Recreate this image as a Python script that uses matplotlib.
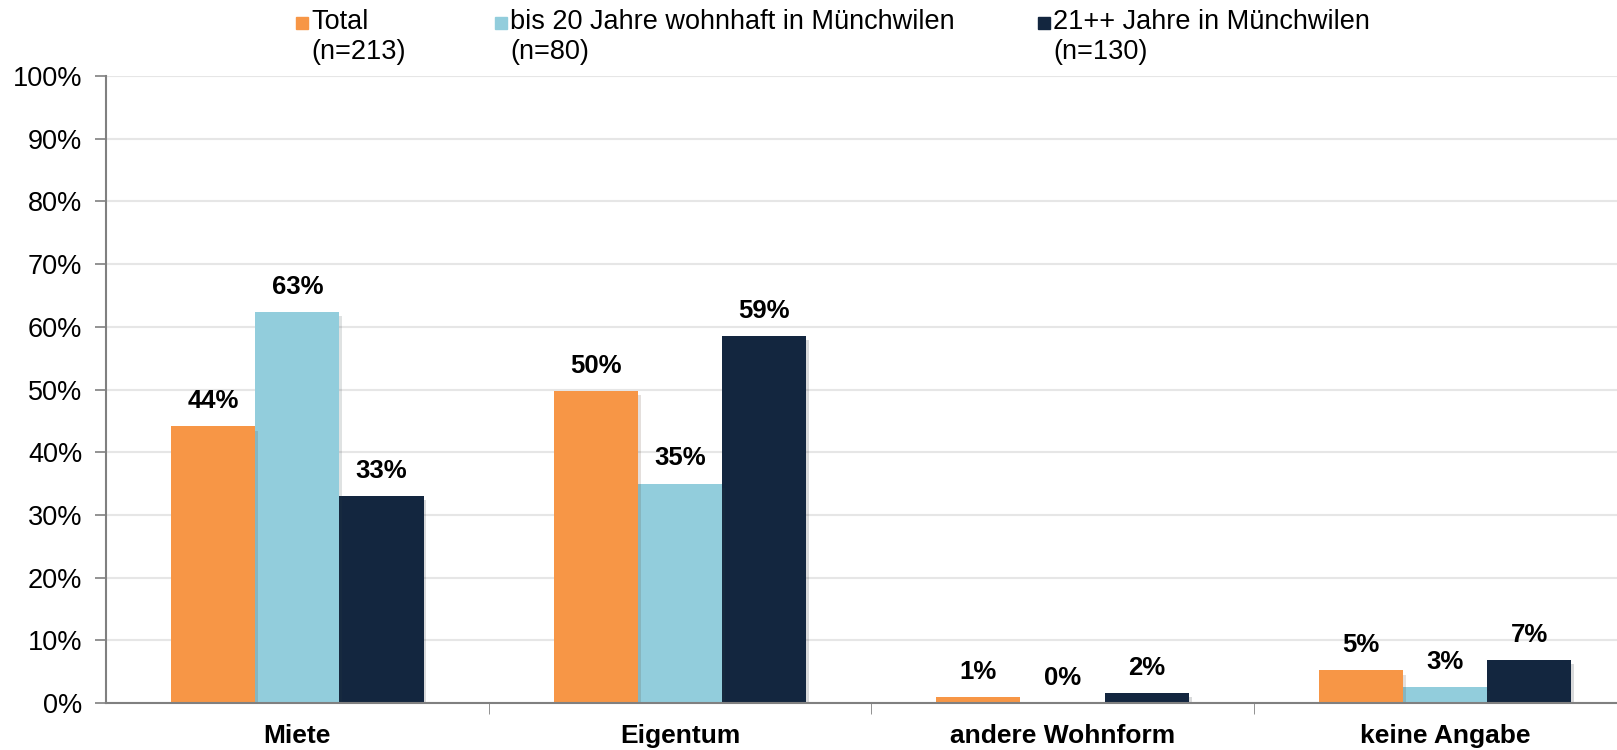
import numpy as np
import matplotlib.pyplot as plt
from matplotlib.patches import Rectangle
import matplotlib.patheffects as pe

plt.rcParams['font.family'] = ['Liberation Sans', 'DejaVu Sans']

categories = ['Miete', 'Eigentum', 'andere Wohnform', 'keine Angabe']
series_names = ['Total', 'bis 20 Jahre wohnhaft in Münchwilen', '21++ Jahre in Münchwilen']
series_n = ['(n=213)', '(n=80)', '(n=130)']
total = [44.1, 49.8, 0.9, 5.2]
bis20 = [62.4, 35.0, 0.0, 2.6]
ab21 = [33.0, 58.5, 1.6, 6.9]
labels_total = ['44%', '50%', '1%', '5%']
labels_bis20 = ['63%', '35%', '0%', '3%']
labels_ab21 = ['33%', '59%', '2%', '7%']
colors = ['#F79646', '#92CDDC', '#13263F']

fig = plt.figure(figsize=(16.17, 7.5), dpi=100)
ax = fig.add_axes([106 / 1617, 47 / 750, 1 - 106 / 1617, (703 - 76) / 750])

x = np.arange(len(categories))
w = 0.22
shadow = [pe.SimplePatchShadow(offset=(2, -3), alpha=0.15), pe.Normal()]
for i, (vals, labs) in enumerate([(total, labels_total), (bis20, labels_bis20), (ab21, labels_ab21)]):
    bars = ax.bar(x + (i - 1) * w, vals, w, color=colors[i], zorder=3 - i * 0.1)
    for b in bars:
        b.set_path_effects(shadow)
    for b, lab in zip(bars, labs):
        ax.annotate(lab, (b.get_x() + b.get_width() / 2, b.get_height()),
                    xytext=(0, 13), textcoords='offset points', ha='center',
                    va='baseline', fontsize=18.5, fontweight='bold', zorder=5)

ax.set_xlim(-0.5, 3.449)
ax.set_ylim(0, 100)
ax.set_yticks(np.arange(0, 101, 10))
ax.set_yticklabels([f'{v}%' for v in range(0, 101, 10)], fontsize=19.5)
ax.yaxis.grid(True, color='#e6e6e6', linewidth=1.5, zorder=0)
ax.set_axisbelow(True)
ax.set_xticks(x)
ax.set_xticklabels(categories, fontsize=19, fontweight='bold')
ax.tick_params(axis='x', which='major', length=0, pad=15)
ax.set_xticks([0.5, 1.5, 2.5], minor=True)
ax.tick_params(axis='x', which='minor', length=8, color='#808080', direction='out')
ax.tick_params(axis='y', length=8, color='#808080', width=1.2, pad=9)
for s in ['top', 'right']:
    ax.spines[s].set_visible(False)
for s in ['left', 'bottom']:
    ax.spines[s].set_color('#808080')
    ax.spines[s].set_linewidth(1.5)
ax.spines['bottom'].set_zorder(6)

# legend drawn by hand, square next to the first text line
leg_x = [296, 495, 1038]
for i in range(3):
    fig.patches.append(Rectangle((leg_x[i] / 1617, (750 - 29) / 750), 12 / 1617, 12 / 750,
                                 transform=fig.transFigure, color=colors[i]))
    fig.text((leg_x[i] + 15) / 1617, 1 - 9 / 750, series_names[i] + '\n' + series_n[i],
             fontsize=19.5, va='top', ha='left', linespacing=1.2)

fig.savefig('out.png', dpi=100)
